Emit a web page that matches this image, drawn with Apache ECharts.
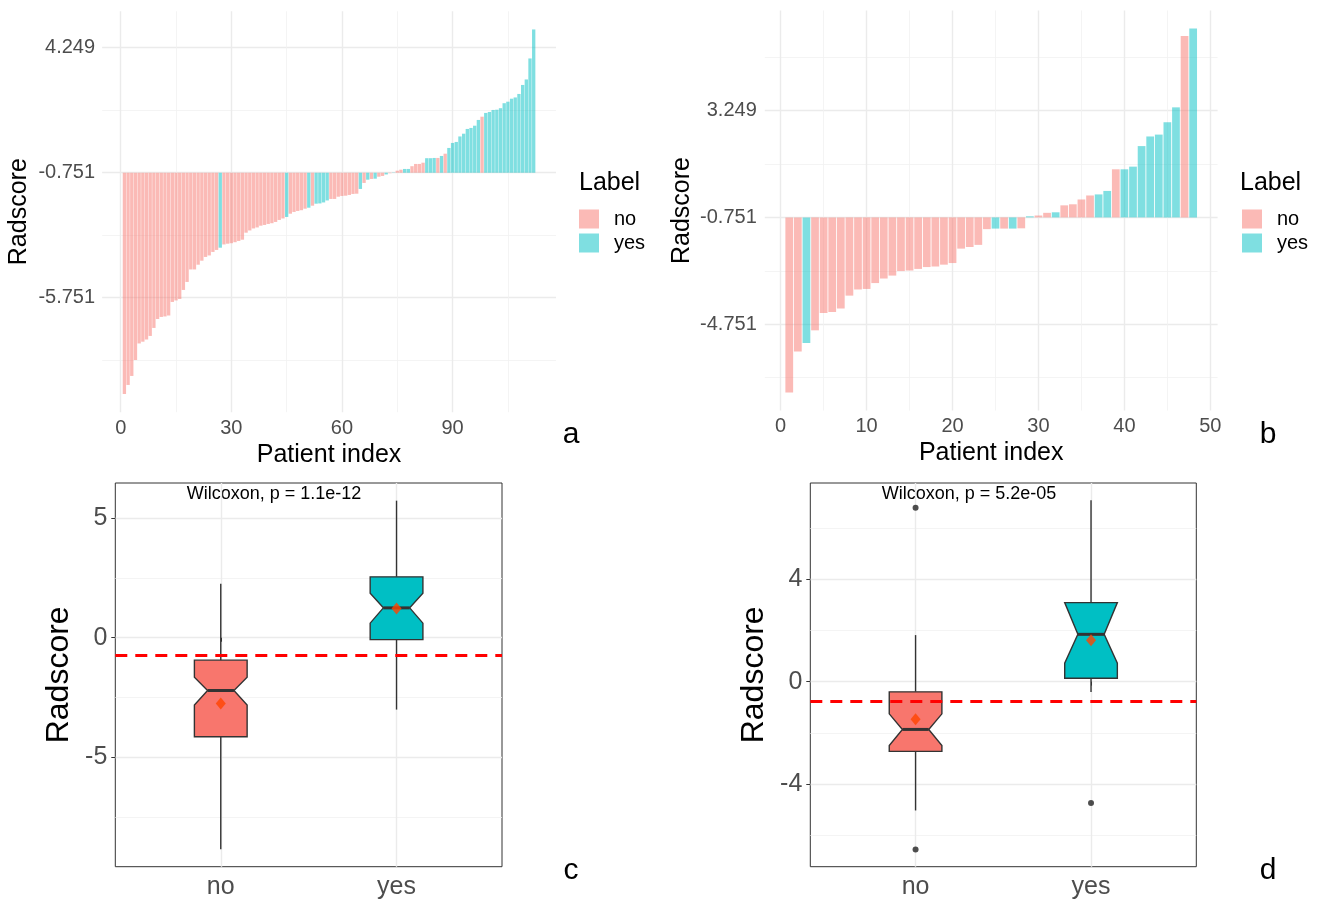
<!DOCTYPE html>
<html><head><meta charset="utf-8">
<script src="https://cdn.jsdelivr.net/npm/echarts@6/dist/echarts.min.js"></script>
<style>html,body{margin:0;padding:0;background:#fff}#main{width:1322px;height:901px}</style>
</head><body><div id="main"></div>
<script>
const FONT = '"Liberation Sans", Arial, Helvetica, sans-serif';
const CUTOFF = -0.751;

// ---------- Panel a : waterfall, training set ----------
const radscoreA = [
 -9.60,-9.24,-8.88,-8.24,-7.58,-7.51,-7.42,-7.28,-6.96,-6.60,
 -6.52,-6.50,-6.46,-5.92,-5.86,-5.80,-5.44,-5.12,-4.62,-4.62,
 -4.43,-4.27,-4.12,-4.06,-3.92,-3.84,-3.75,-3.62,-3.59,-3.57,
 -3.53,-3.48,-3.43,-3.15,-3.06,-2.98,-2.94,-2.87,-2.84,-2.80,
 -2.77,-2.72,-2.64,-2.58,-2.52,-2.39,-2.32,-2.28,-2.25,-2.19,
 -2.15,-2.07,-1.99,-1.98,-1.94,-1.86,-1.80,-1.80,-1.71,-1.68,
 -1.67,-1.64,-1.60,-1.59,-1.40,-1.16,-1.03,-1.00,-0.99,-0.91,
 -0.88,-0.82,-0.77,-0.74,-0.67,-0.63,-0.60,-0.60,-0.49,-0.40,
 -0.40,-0.35,-0.17,-0.17,-0.16,-0.16,-0.08,0.01,0.24,0.44,
 0.48,0.70,0.81,1.00,1.04,1.13,1.36,1.49,1.64,1.68,
 1.76,1.77,1.83,2.03,2.09,2.21,2.26,2.40,2.76,2.98,
 3.82,4.98
];
const labelA = [
 'no','no','no','no','no','no','no','no','no','no',
 'no','no','no','no','no','no','no','no','no','no',
 'no','no','no','no','no','no','yes','no','no','no',
 'no','no','no','no','no','no','no','no','no','no',
 'no','no','no','no','yes','no','no','no','no','no',
 'yes','no','yes','yes','yes','yes','no','no','no','no',
 'no','no','no','no','yes','no','yes','no','yes','no',
 'no','yes','no','yes','no','no','yes','yes','no','no',
 'no','no','yes','yes','yes','no','yes','no','yes','yes',
 'yes','yes','yes','yes','yes','yes','yes','no','yes','yes',
 'yes','yes','yes','yes','yes','yes','yes','yes','yes','yes',
 'yes','yes'
];
const yTicksA = [-5.751, -0.751, 4.249];
const yMinorA = [-8.251, -3.251, 1.749];
const xTicksA = [0, 30, 60, 90];
const xMinorA = [15, 45, 75, 105];

// ---------- Panel b : waterfall, validation set ----------
const radscoreB = [
 -7.31,-5.77,-5.45,-4.98,-4.33,-4.29,-4.16,-3.68,-3.45,-3.43,
 -3.21,-3.04,-2.93,-2.76,-2.74,-2.68,-2.61,-2.59,-2.52,-2.46,
 -1.92,-1.86,-1.78,-1.19,-1.17,-1.17,-1.17,-1.16,-0.71,-0.68,
 -0.58,-0.56,-0.30,-0.26,-0.08,0.07,0.11,0.24,1.05,1.05,
 1.15,1.92,2.28,2.35,2.81,3.37,6.04,6.32
];
const labelB = [
 'no','no','yes','no','no','no','no','no','no','no',
 'no','no','no','no','no','no','no','no','no','no',
 'no','no','no','no','yes','no','yes','no','yes','no',
 'no','yes','no','no','no','no','yes','yes','no','yes',
 'yes','yes','yes','yes','yes','yes','no','yes'
];
const yTicksB = [-4.751, -0.751, 3.249];
const yMinorB = [-6.751, -2.751, 1.249, 5.249];
const xTicksB = [0, 10, 20, 30, 40, 50];
const xMinorB = [5, 15, 25, 35, 45];

// ---------- Panels c, d : notched boxplots ----------
const groups = ['no', 'yes'];
// [lower whisker, Q1, notch low, median, notch high, Q3, upper whisker]
const boxNoC  = [-8.86, -4.15, -2.82, -2.21, -1.65, -0.94, 2.26];
const boxYesC = [-3.01, -0.08, 0.61, 1.25, 1.86, 2.55, 5.74];
const meanC = [-2.76, 1.22];
const outliersC = [];
const yTicksC = [-5, 0, 5];
const yMinorC = [-7.5, -2.5, 2.5];
const pTextC = 'Wilcoxon, p = 1.1e-12';

const boxNoD  = [-5.04, -2.73, -2.50, -1.87, -1.26, -0.40, 1.82];
const boxYesD = [-0.41, 0.13, 0.72, 1.85, 3.09, 3.09, 7.10];
const meanD = [-1.47, 1.62];
const outliersD = [[1, 6.80], [1, -6.57], [2, -4.75]];
const yTicksD = [-4, 0, 4];
const yMinorD = [-6, -2, 2, 6];
const pTextD = 'Wilcoxon, p = 5.2e-05';

const COL_NO = '#F8766D', COL_YES = '#00BFC4';
const BAR_NO = 'rgba(248,118,109,0.5)', BAR_YES = 'rgba(0,191,196,0.5)';
const GRID_MAJ = {color: '#EBEBEB', width: 1.4};
const GRID_MIN = {color: '#F1F1F1', width: 0.8};
const LABEL_COL = '#4D4D4D';

const chart = echarts.init(document.getElementById('main'), null, {renderer: 'canvas'});

function barRender(params, api) {
  const x = api.value(0), v = api.value(1);
  const p0 = api.coord([x - 0.45, CUTOFF]);
  const p1 = api.coord([x + 0.45, v]);
  return {
    type: 'rect',
    shape: {x: p0[0], y: Math.min(p0[1], p1[1]), width: p1[0] - p0[0], height: Math.abs(p1[1] - p0[1])},
    style: {fill: api.visual('color')}
  };
}
const BOX_HALF = 0.15, NOTCH_RATIO = 0.5;
function boxRender(params, api) {
  const x = api.value(0);
  const lo = api.value(1), q1 = api.value(2), nl = api.value(3), md = api.value(4),
        nh = api.value(5), q3 = api.value(6), hi = api.value(7);
  const hw = BOX_HALF, nw = BOX_HALF * NOTCH_RATIO;
  const P = (dx, y) => api.coord([x + dx, y]);
  const stroke = '#333333';
  const poly = [P(-hw, q1), P(-hw, nl), P(-nw, md), P(-hw, nh), P(-hw, q3),
                P(hw, q3), P(hw, nh), P(nw, md), P(hw, nl), P(hw, q1)];
  const a = P(0, q3), b = P(0, hi), c = P(0, q1), d = P(0, lo), m1 = P(-nw, md), m2 = P(nw, md);
  return {type: 'group', children: [
    {type: 'line', shape: {x1: a[0], y1: a[1], x2: b[0], y2: b[1]}, style: {stroke, lineWidth: 1.4}},
    {type: 'line', shape: {x1: c[0], y1: c[1], x2: d[0], y2: d[1]}, style: {stroke, lineWidth: 1.4}},
    {type: 'polygon', shape: {points: poly}, style: {fill: api.visual('color'), stroke, lineWidth: 1.4}},
    {type: 'line', shape: {x1: m1[0], y1: m1[1], x2: m2[0], y2: m2[1]}, style: {stroke, lineWidth: 3}}
  ]};
}

function barData(vals, labels, which) {
  const out = [];
  vals.forEach((v, i) => { if (labels[i] === which) out.push([i + 1, v]); });
  return out;
}

function valAxisMajor(gi, min, max, ticks, extra) {
  return Object.assign({
    type: 'value', gridIndex: gi, min, max,
    axisLine: {show: false},
    axisTick: {show: false, customValues: ticks},
    axisLabel: {customValues: ticks, color: LABEL_COL, fontFamily: FONT, fontSize: 20},
    splitLine: {show: true, lineStyle: GRID_MAJ}
  }, extra || {});
}
function valAxisMinor(gi, min, max, ticks, pos) {
  return {
    type: 'value', gridIndex: gi, min, max, position: pos,
    axisLine: {show: false},
    axisTick: {show: false, customValues: ticks},
    axisLabel: {show: false, customValues: ticks},
    splitLine: {show: true, lineStyle: GRID_MIN}
  };
}

const titleStyle = {color: '#000', fontFamily: FONT, fontSize: 25};

const option = {
  animation: false,
  backgroundColor: '#fff',
  grid: [
    {left: 102.1, top: 11.2, width: 453.9, height: 401},
    {left: 764.8, top: 10.4, width: 452.8, height: 400.2},
    {left: 115.3, top: 483, width: 386.7, height: 383.7, show: true, borderColor: '#333', borderWidth: 1, backgroundColor: 'transparent'},
    {left: 810.3, top: 483, width: 386, height: 383.7, show: true, borderColor: '#333', borderWidth: 1, backgroundColor: 'transparent'}
  ],
  xAxis: [
    valAxisMajor(0, -5.045, 118.05, xTicksA, {name: 'Patient index', nameLocation: 'middle', nameGap: 30, nameTextStyle: titleStyle,
      axisLabel: {customValues: xTicksA, color: LABEL_COL, fontFamily: FONT, fontSize: 20, margin: 6}}),
    valAxisMinor(0, -5.045, 118.05, xMinorA, 'bottom'),
    valAxisMajor(1, -1.845, 50.845, xTicksB, {name: 'Patient index', nameLocation: 'middle', nameGap: 30, nameTextStyle: titleStyle,
      axisLabel: {customValues: xTicksB, color: LABEL_COL, fontFamily: FONT, fontSize: 20, margin: 6}}),
    valAxisMinor(1, -1.845, 50.845, xMinorB, 'bottom'),
    {type: 'value', gridIndex: 2, min: 0.4, max: 2.6,
      axisLine: {show: false},
      axisTick: {show: true, customValues: [1, 2], length: 4, lineStyle: {color: '#333', width: 1}},
      axisLabel: {customValues: [1, 2], formatter: v => groups[Math.round(v) - 1], color: LABEL_COL, fontFamily: FONT, fontSize: 25, margin: 8},
      splitLine: {show: true, lineStyle: GRID_MAJ}},
    {type: 'value', gridIndex: 3, min: 0.4, max: 2.6,
      axisLine: {show: false},
      axisTick: {show: true, customValues: [1, 2], length: 4, lineStyle: {color: '#333', width: 1}},
      axisLabel: {customValues: [1, 2], formatter: v => groups[Math.round(v) - 1], color: LABEL_COL, fontFamily: FONT, fontSize: 25, margin: 8},
      splitLine: {show: true, lineStyle: GRID_MAJ}}
  ],
  yAxis: [
    valAxisMajor(0, -10.33, 5.71, yTicksA, {name: 'Radscore', nameLocation: 'middle', nameGap: 70, nameTextStyle: titleStyle,
      axisLabel: {customValues: yTicksA, formatter: v => v.toFixed(3), color: LABEL_COL, fontFamily: FONT, fontSize: 20, margin: 7}}),
    valAxisMinor(0, -10.33, 5.71, yMinorA, 'left'),
    valAxisMajor(1, -7.986, 7.001, yTicksB, {name: 'Radscore', nameLocation: 'middle', nameGap: 70, nameTextStyle: titleStyle,
      axisLabel: {customValues: yTicksB, formatter: v => v.toFixed(3), color: LABEL_COL, fontFamily: FONT, fontSize: 20, margin: 8}}),
    valAxisMinor(1, -7.986, 7.001, yMinorB, 'left'),
    {type: 'value', gridIndex: 2, min: -9.59, max: 6.48,
      name: 'Radscore', nameLocation: 'middle', nameGap: 40, nameTextStyle: {color: '#000', fontFamily: FONT, fontSize: 32},
      axisLine: {show: false},
      axisTick: {show: true, customValues: yTicksC, length: 4, lineStyle: {color: '#333', width: 1}},
      axisLabel: {customValues: yTicksC, color: LABEL_COL, fontFamily: FONT, fontSize: 25, margin: 8},
      splitLine: {show: true, lineStyle: GRID_MAJ}},
    valAxisMinor(2, -9.59, 6.48, yMinorC, 'left'),
    {type: 'value', gridIndex: 3, min: -7.24, max: 7.77,
      name: 'Radscore', nameLocation: 'middle', nameGap: 40, nameTextStyle: {color: '#000', fontFamily: FONT, fontSize: 32},
      axisLine: {show: false},
      axisTick: {show: true, customValues: yTicksD, length: 4, lineStyle: {color: '#333', width: 1}},
      axisLabel: {customValues: yTicksD, color: LABEL_COL, fontFamily: FONT, fontSize: 25, margin: 8},
      splitLine: {show: true, lineStyle: GRID_MAJ}},
    valAxisMinor(3, -7.24, 7.77, yMinorD, 'left')
  ],
  legend: [
    {data: ['no', 'yes'], orient: 'vertical', left: 579, top: 209, padding: 0, itemWidth: 20, itemHeight: 19, itemGap: 4,
      icon: 'rect', selectedMode: false,
      textStyle: {fontFamily: FONT, fontSize: 20, color: '#000', lineHeight: 19, padding: [0, 0, 0, 10]}},
    {data: ['no', 'yes'], orient: 'vertical', left: 1242, top: 209, padding: 0, itemWidth: 20, itemHeight: 19, itemGap: 4,
      icon: 'rect', selectedMode: false,
      textStyle: {fontFamily: FONT, fontSize: 20, color: '#000', lineHeight: 19, padding: [0, 0, 0, 10]}}
  ],
  graphic: [
    {type: 'text', left: 579, top: 171, style: {text: 'Label', font: '25px ' + FONT, fill: '#000'}},
    {type: 'text', left: 1240, top: 171, style: {text: 'Label', font: '25px ' + FONT, fill: '#000'}},
    {type: 'text', x: 571, y: 435, style: {text: 'a', font: '30px ' + FONT, fill: '#000', align: 'center', verticalAlign: 'middle'}},
    {type: 'text', x: 1268, y: 435, style: {text: 'b', font: '30px ' + FONT, fill: '#000', align: 'center', verticalAlign: 'middle'}},
    {type: 'text', x: 571, y: 871, style: {text: 'c', font: '30px ' + FONT, fill: '#000', align: 'center', verticalAlign: 'middle'}},
    {type: 'text', x: 1268, y: 871, style: {text: 'd', font: '30px ' + FONT, fill: '#000', align: 'center', verticalAlign: 'middle'}},
    {type: 'text', x: 274, y: 494, style: {text: pTextC, font: '18px ' + FONT, fill: '#000', align: 'center', verticalAlign: 'middle'}},
    {type: 'text', x: 969, y: 494, style: {text: pTextD, font: '18px ' + FONT, fill: '#000', align: 'center', verticalAlign: 'middle'}}
  ],
  series: [
    {type: 'custom', name: 'no', xAxisIndex: 0, yAxisIndex: 0, renderItem: barRender, itemStyle: {color: BAR_NO},
      encode: {x: 0, y: 1}, data: barData(radscoreA, labelA, 'no')},
    {type: 'custom', name: 'yes', xAxisIndex: 0, yAxisIndex: 0, renderItem: barRender, itemStyle: {color: BAR_YES},
      encode: {x: 0, y: 1}, data: barData(radscoreA, labelA, 'yes')},
    {type: 'custom', name: 'no', xAxisIndex: 2, yAxisIndex: 2, renderItem: barRender, itemStyle: {color: BAR_NO},
      encode: {x: 0, y: 1}, data: barData(radscoreB, labelB, 'no')},
    {type: 'custom', name: 'yes', xAxisIndex: 2, yAxisIndex: 2, renderItem: barRender, itemStyle: {color: BAR_YES},
      encode: {x: 0, y: 1}, data: barData(radscoreB, labelB, 'yes')},

    {type: 'custom', name: 'boxC', xAxisIndex: 4, yAxisIndex: 4, renderItem: boxRender,
      encode: {x: 0, y: [1, 2, 3, 4, 5, 6, 7]},
      data: [{value: [1].concat(boxNoC), itemStyle: {color: COL_NO}}, {value: [2].concat(boxYesC), itemStyle: {color: COL_YES}}]},
    {type: 'scatter', name: 'outC', xAxisIndex: 4, yAxisIndex: 4, symbol: 'circle', symbolSize: 6,
      itemStyle: {color: '#222'}, data: outliersC},
    {type: 'scatter', name: 'meanC', xAxisIndex: 4, yAxisIndex: 4, symbol: 'diamond', symbolSize: [10, 12], z: 5,
      itemStyle: {color: '#FF4500'}, data: meanC.map((m, i) => [i + 1, m]),
      markLine: {silent: true, symbol: 'none', label: {show: false}, animation: false,
        lineStyle: {color: '#FF0000', width: 3, type: [12, 8]}, data: [{yAxis: CUTOFF}]}},

    {type: 'custom', name: 'boxD', xAxisIndex: 5, yAxisIndex: 6, renderItem: boxRender,
      encode: {x: 0, y: [1, 2, 3, 4, 5, 6, 7]},
      data: [{value: [1].concat(boxNoD), itemStyle: {color: COL_NO}}, {value: [2].concat(boxYesD), itemStyle: {color: COL_YES}}]},
    {type: 'scatter', name: 'outD', xAxisIndex: 5, yAxisIndex: 6, symbol: 'circle', symbolSize: 6,
      itemStyle: {color: '#222'}, data: outliersD},
    {type: 'scatter', name: 'meanD', xAxisIndex: 5, yAxisIndex: 6, symbol: 'diamond', symbolSize: [10, 12], z: 5,
      itemStyle: {color: '#FF4500'}, data: meanD.map((m, i) => [i + 1, m]),
      markLine: {silent: true, symbol: 'none', label: {show: false}, animation: false,
        lineStyle: {color: '#FF0000', width: 3, type: [12, 8]}, data: [{yAxis: CUTOFF}]}}
  ]
};
chart.setOption(option);
</script></body></html>
